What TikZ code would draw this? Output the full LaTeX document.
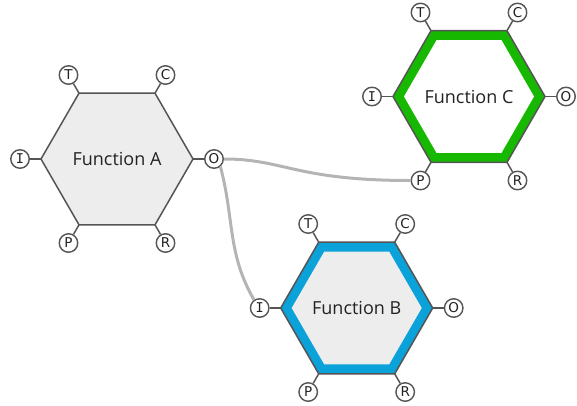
\documentclass[tikz,border=0pt]{standalone}
\usepackage{fontspec}
\setmainfont{Open Sans}
\newfontfamily\framletterfont{DejaVu Sans}
\newfontfamily\framifont{DejaVu Sans Mono}
\definecolor{hexgray}{HTML}{EDEDED}
\definecolor{hexline}{HTML}{555555}
\definecolor{bandgreen}{HTML}{16B800}
\definecolor{bandblue}{HTML}{0AA2D8}
\definecolor{linkgray}{HTML}{B4B4B4}
\definecolor{txtgray}{HTML}{222222}
\tikzset{
  asp/.style={circle, draw=hexline, fill=white, line width=1.4pt, minimum size=18.5pt, inner sep=0pt, font=\framletterfont\fontsize{13.5}{13.5}\selectfont, text=txtgray},
  hexout/.style={draw=hexline, line width=1.5pt, line join=miter},
  stub/.style={draw=hexline, line width=1.5pt},
  fnlabel/.style={font=\fontsize{18}{20}\selectfont, text=txtgray, inner sep=0pt},
  link/.style={draw=linkgray, line width=3pt}
}
% #1 name, #2 centre, #3 label, #4 fill, #5 band colour
\newcommand\framfn[5]{%
  \coordinate (#1) at #2;
  \fill[#5] (#1) +(0:76) -- +(60:76) -- +(120:76) -- +(180:76) -- +(240:76) -- +(300:76) -- cycle;
  \fill[#4] (#1) +(0:65) -- +(60:65) -- +(120:65) -- +(180:65) -- +(240:65) -- +(300:65) -- cycle;
  \draw[hexout] (#1) +(0:76) -- +(60:76) -- +(120:76) -- +(180:76) -- +(240:76) -- +(300:76) -- cycle;
  \path (#1) +(120:97) node[asp] (#1T) {T};
  \path (#1) +(60:97) node[asp] (#1C) {C};
  \path (#1) +(0:97) node[asp] (#1O) {O};
  \path (#1) +(-60:97) node[asp] (#1R) {R};
  \path (#1) +(-120:97) node[asp] (#1P) {P};
  \path (#1) +(180:97) node[asp] (#1I) {\framifont I};
  \draw[stub] (#1) +(120:76) -- (#1T);
  \draw[stub] (#1) +(60:76) -- (#1C);
  \draw[stub] (#1) +(0:76) -- (#1O);
  \draw[stub] (#1) +(-60:76) -- (#1R);
  \draw[stub] (#1) +(-120:76) -- (#1P);
  \draw[stub] (#1) +(180:76) -- (#1I);
  \node[fnlabel] (#1L) at (#1) {#3};
}
\begin{document}
\begin{tikzpicture}[x=1pt,y=1pt]
\useasboundingbox (0,0) rectangle (577,405);
\framfn{A}{(117,246)}{Function A}{hexgray}{hexgray}
\framfn{B}{(356.7,97)}{Function B}{hexgray}{bandblue}
\framfn{C}{(469,308.5)}{Function C}{white}{bandgreen}
\draw[link] (AO.east) .. controls +(60,0) and +(-115,0) .. (CP.west);
\draw[link] (AO.-50) to[out=-75,in=120] (BI.125);
\end{tikzpicture}
\end{document}
